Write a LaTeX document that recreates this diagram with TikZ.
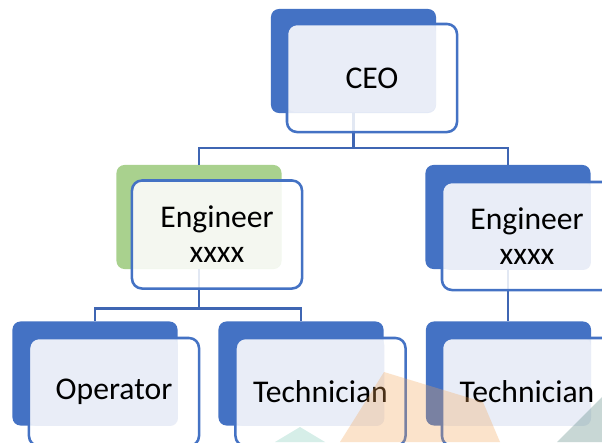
\documentclass[tikz,border=0pt]{standalone}
\usepackage{fontspec}
\setmainfont{Carlito}
\usepackage{xcolor}
\usepackage{tikz}
\usetikzlibrary{positioning}

\definecolor{chartblue}{HTML}{4472C4}
\definecolor{linkblue}{HTML}{3F66B3}
\definecolor{chartgreen}{HTML}{A9D18E}
\definecolor{paneblue}{HTML}{E9EDF7}
\definecolor{panegreen}{HTML}{F4F7F0}
\definecolor{markorange}{HTML}{F5A555}
\definecolor{markteal}{HTML}{78C8B4}
\definecolor{markslate}{HTML}{497B75}

\begin{document}
\begin{tikzpicture}[
  x=0.025cm, y=-0.025cm,
  backbox/.style={fill=chartblue, rounded corners=0.2cm, minimum width=4.125cm, minimum height=2.6cm, inner sep=0pt, outer sep=0pt},
  frontbox/.style={draw=chartblue, line width=1.8pt, fill=white, fill opacity=0.85, text opacity=1, rounded corners=0.25cm,
    minimum width=4.25cm, minimum height=2.7cm, inner sep=0pt, outer sep=0pt, align=center, font=\fontsize{22.5}{25}\selectfont,
    path picture={\fill[#1, fill opacity=1, rounded corners=0.2cm] (path picture bounding box.north west) rectangle ++(149,88);}},
  frontbox/.default=paneblue,
  link/.style={draw=linkblue, line width=2.1pt},
  wmark/.style={fill opacity=0.3}
]
\clip (0,0) rectangle (602,442);
\fill[white] (0,0) rectangle (602,442);

% coloured backing cards
\node[backbox] (ceoB) at (353.5, 61) {};
\node[backbox, fill=chartgreen] (engLB) at (199, 217) {};
\node[backbox] (engRB) at (508, 217) {};
\node[backbox] (opB) at (95, 373.5) {};
\node[backbox] (techAB) at (301, 373.5) {};
\node[backbox] (techBB) at (508.5, 373.5) {};

% reporting lines
\draw[link] (ceoB.south) -- ++(0,35) -| (engLB.north);
\draw[link] (ceoB.south) ++(0,35) -| (engRB.north);
\draw[link] (engLB.south) -- ++(0,39) -| (opB.north);
\draw[link] (engLB.south) ++(0,39) -| (techAB.north);
\draw[link] (engRB.south) -- (engRB.south |- techBB.north);

% text cards
\node[frontbox] (ceo) at (372, 78) {CEO};
\node[frontbox=panegreen] (engL) at (217, 234.5) {Engineer\\xxxx};
\node[frontbox] (engR) at (527, 236) {Engineer\\xxxx};
\node[frontbox] (op) at (114, 392) {Operator};
\node[frontbox] (techA) at (320.5, 392) {Technician};
\node[frontbox] (techB) at (527, 392) {Technician};

% faint watermark
\fill[wmark, markorange] (384,372) -- (483,402) -- (500,442) -- (340,442) -- cycle;
\fill[wmark, markteal] (300,427) -- (325,442) -- (275,442) -- cycle;
\fill[wmark, markslate] (557,442) -- (602,397) -- (602,442) -- cycle;
\end{tikzpicture}
\end{document}
